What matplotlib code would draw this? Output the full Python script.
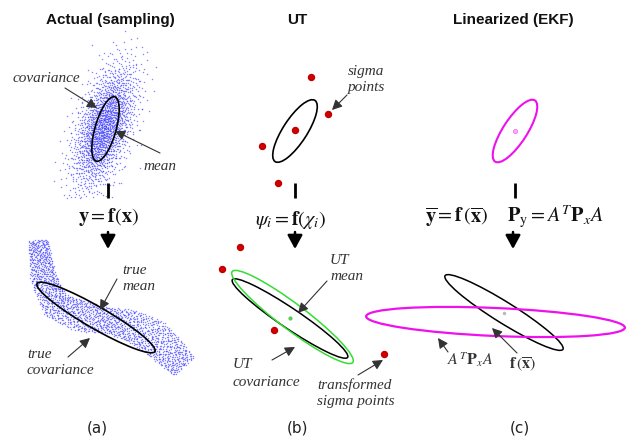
import numpy as np
import matplotlib
matplotlib.use("Agg")
import matplotlib.pyplot as plt
from matplotlib.patches import Ellipse

plt.rcParams['mathtext.fontset'] = 'stix'

# ---------------- data ----------------
titles = ["Actual (sampling)", "UT", "Linearized (EKF)"]
title_x = [110, 297, 513]
panel_labels = ["(a)", "(b)", "(c)"]
panel_label_x = [97, 297, 520]

# prior sample cloud (mean, std along major/minor, screen angle, count)
prior_mean = [104, 127]
prior_std = [33, 13]
prior_angle = 72
prior_count = 2000

# transformed cloud: spine of the band and its half width
band_x = [38, 40, 43, 55, 80, 107, 130, 153, 172, 184]
band_y = [240, 255, 278, 305, 316, 320, 325, 336, 354, 367]
band_half_width = [10, 11, 13, 15, 16, 13, 16, 18, 16, 14]
band_count = 1900

# ellipses: cx, cy, width, height, screen angle, colour, lw
ellipses = [
    (105.5, 129, 67, 21, 74, 'black', 1.2),
    (96, 317.5, 136, 22, -30, 'black', 1.2),
    (295, 131, 73, 24, 57, 'black', 1.2),
    (290, 318.5, 139, 20, -34, 'black', 1.1),
    (292.5, 317, 151, 26, -37, '#33dd33', 1.1),
    (515, 131, 73, 24, 57, '#ee11ee', 1.5),
    (504, 312.5, 139, 21, -32, 'black', 1.1),
    (495.5, 322, 259, 28, -2.5, '#ee11ee', 1.6),
]

sigma_x = [311, 328, 295, 262, 278]
sigma_y = [77, 114, 130, 146, 183]
tsigma_x = [240, 222, 274, 384]
tsigma_y = [247, 269, 330, 354]

# italic labels: text, x, y
labels = [
    ("covariance", 13, 78), ("mean", 143, 167),
    ("true", 122, 270), ("mean", 122, 286),
    ("true", 27, 354), ("covariance", 27, 370),
    ("sigma", 348, 72), ("points", 348, 88),
    ("UT", 330, 260), ("mean", 330, 277),
    ("UT", 233, 365), ("covariance", 233, 382),
    ("transformed", 317, 385), ("sigma points", 317, 401),
]
# pointer arrows: (x0, y0, x1, y1)
pointers = [
    (65, 88, 97, 108), (160, 153, 115, 131),
    (117, 279, 100, 310), (68, 357, 90, 338),
    (347, 95, 332, 110), (327, 281, 298, 313),
    (272, 360, 295, 347), (358, 375, 383, 360),
    (448, 352, 438, 338), (517, 353, 492, 328),
]
bars_x = [108, 295, 515]
arrows_x = [108, 295, 513]

equations = [
    (r'$\mathbf{y}=\mathbf{f}\left(\mathbf{x}\right)$', 108, 217),
    (r'$\psi_i=\mathbf{f}\left(\chi_i\right)$', 291, 220),
    (r'$\overline{\mathbf{y}}=\mathbf{f}\,(\overline{\mathbf{x}})$', 457, 217),
    (r'$\mathbf{P}_{\mathrm{y}}=A^T\mathbf{P}_x A$', 555, 217),
]
math_labels = [
    (r'$A^T\mathbf{P}_x A$', 470, 360),
    (r'$\mathbf{f}\,(\overline{\mathbf{x}})$', 523, 365),
]


def halton(n, base, skip=20):
    out = np.empty(n)
    for i in range(n):
        k = i + 1 + skip
        f, r = 1.0, 0.0
        while k > 0:
            f /= base
            r += f * (k % base)
            k //= base
        out[i] = r
    return out


fig = plt.figure(figsize=(6.34, 4.40), dpi=100)
ax = fig.add_axes([0, 0, 1, 1])
ax.set_xlim(0, 634)
ax.set_ylim(440, 0)
ax.axis('off')

# prior cloud (deterministic quasi-random sampling)
u1 = halton(prior_count, 5)
u2 = halton(prior_count, 3)
r = np.sqrt(-2 * np.log(1 - u1))
z1 = r * np.cos(2 * np.pi * u2)
z2 = r * np.sin(2 * np.pi * u2)
th = np.deg2rad(prior_angle)
px = prior_mean[0] + z1 * prior_std[0] * np.cos(th) - z2 * prior_std[1] * np.sin(th)
py = prior_mean[1] - z1 * prior_std[0] * np.sin(th) - z2 * prior_std[1] * np.cos(th)
keep = (py < 198) & (py > 28)
ax.scatter(px[keep], py[keep], s=1.1, c='#3535ff', alpha=0.6, linewidths=0)

# transformed band cloud
bx = np.array(band_x, float)
by = np.array(band_y, float)
seg = np.hypot(np.diff(bx), np.diff(by))
cum = np.concatenate([[0], np.cumsum(seg)])
tx = np.gradient(bx)
ty = np.gradient(by)
tn = np.hypot(tx, ty)
nx, ny = -ty / tn, tx / tn
s = halton(band_count, 2, 7) * cum[-1]
v = halton(band_count, 3, 7) * 2 - 1
hw = np.interp(s, cum, band_half_width)
qx = np.interp(s, cum, bx) + np.interp(s, cum, nx) * v * hw
qy = np.interp(s, cum, by) + np.interp(s, cum, ny) * v * hw
ax.scatter(qx, qy, s=1.1, c='#3535ff', alpha=0.6, linewidths=0)

for cx, cy, w, h, ang, col, lw in ellipses:
    ax.add_patch(Ellipse((cx, cy), w, h, angle=-ang, fill=False, ec=col, lw=lw))

ax.plot(sigma_x, sigma_y, 'o', color='#d40000', ms=4.3, mec='#c00000')
ax.plot(tsigma_x, tsigma_y, 'o', color='#d40000', ms=4.3, mec='#c00000')
ax.plot([290], [318], 'o', color='#55cc55', ms=2)
ax.plot([515], [131], 'o', mfc='#f7b0f7', mec='#ee66ee', ms=3, mew=0.5)
ax.plot([504], [313], 'o', color='#bbbbbb', ms=1.5)

for t, x in zip(titles, title_x):
    ax.text(x, 20, t, ha='center', va='center', fontsize=11, fontweight='bold',
            family='Liberation Sans', color='#111111')
for t, x in zip(panel_labels, panel_label_x):
    ax.text(x, 428, t, ha='center', va='center', fontsize=11, family='DejaVu Sans',
            color='#222222')

for t, x, y in labels:
    ax.text(x, y, t, ha='left', va='center', fontsize=11, style='italic',
            family='Liberation Serif', color='#333333')
for x0, y0, x1, y1 in pointers:
    ax.annotate('', xy=(x1, y1), xytext=(x0, y0),
                arrowprops=dict(arrowstyle='-|>,head_width=0.25,head_length=0.5',
                                color='#333333', lw=0.8, mutation_scale=12,
                                shrinkA=0, shrinkB=0))

for x in bars_x:
    ax.plot([x, x], [183, 198], color='black', lw=2.0, solid_capstyle='butt')
for x in arrows_x:
    ax.annotate('', xy=(x, 249), xytext=(x, 232),
                arrowprops=dict(arrowstyle='-|>,head_width=0.3,head_length=0.55',
                                color='black', lw=1.8, mutation_scale=15,
                                shrinkA=0, shrinkB=0))

for t, x, y in equations:
    ax.text(x, y, t, ha='center', va='center', fontsize=14.5, color='#111111')
for t, x, y in math_labels:
    ax.text(x, y, t, ha='center', va='center', fontsize=11.5, color='#333333')

fig.savefig('out.png', dpi=100)
